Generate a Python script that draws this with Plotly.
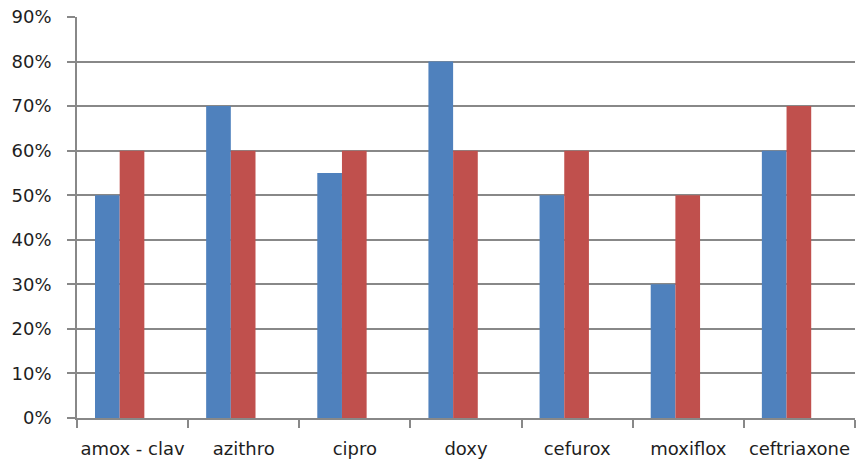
import plotly.graph_objects as go

# Antibiotic categories and the two series of percentages
categories = ["amox - clav", "azithro", "cipro", "doxy", "cefurox", "moxiflox", "ceftriaxone"]
series_a = [0.50, 0.70, 0.55, 0.80, 0.50, 0.30, 0.60]
series_b = [0.60, 0.60, 0.60, 0.60, 0.60, 0.50, 0.70]
y_ticks = [0.0, 0.1, 0.2, 0.3, 0.4, 0.5, 0.6, 0.7, 0.8, 0.9]

BLUE = "#4F81BD"
RED = "#C0504D"
GRID = "#888888"
FONT = "DejaVu Sans"

bar_w = 0.222
start = -0.338

fig = go.Figure()
fig.add_trace(go.Bar(x=categories, y=series_a, marker=dict(color=BLUE, line=dict(width=0)),
                     width=bar_w, offset=start, name="A"))
fig.add_trace(go.Bar(x=categories, y=series_b, marker=dict(color=RED, line=dict(width=0)),
                     width=bar_w, offset=start + bar_w, name="B"))

fig.update_layout(
    width=857, height=465,
    margin=dict(l=77, r=2, t=17, b=47),
    plot_bgcolor="white", paper_bgcolor="white",
    showlegend=False,
    barmode="overlay",
    font=dict(family=FONT, size=18, color="#1E1E1E"),
)
fig.update_yaxes(
    range=[0, 0.9], tickvals=y_ticks, tickformat=".0%",
    showgrid=True, gridcolor=GRID, gridwidth=1.6,
    showline=True, linecolor=GRID, linewidth=1.6,
    ticks="outside", ticklen=8, tickcolor=GRID, tickwidth=1.6,
    ticklabelstandoff=12, automargin=False,
    zeroline=False, fixedrange=True,
)
fig.update_xaxes(
    showgrid=False, showline=True, linecolor=GRID, linewidth=1.6,
    ticks="outside", ticklen=8, tickcolor=GRID, tickwidth=1.6,
    tickson="boundaries", ticklabelstandoff=14, tickangle=0,
    automargin=False, fixedrange=True,
)

fig.write_html("out.html")
